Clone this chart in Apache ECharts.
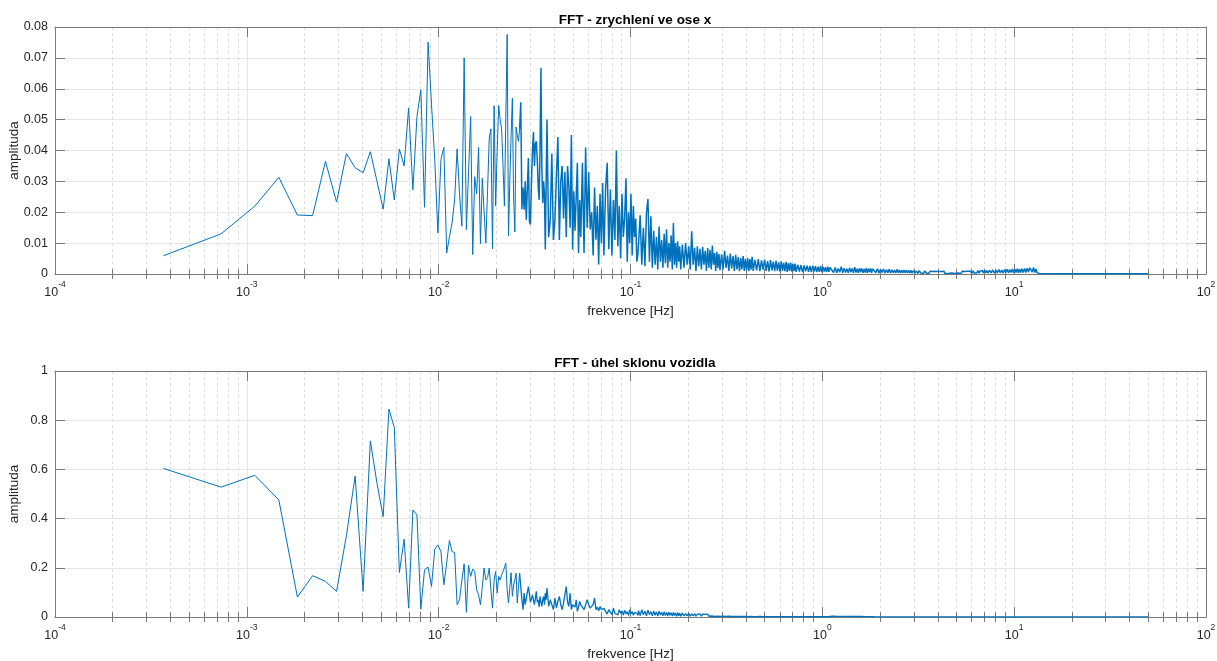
<!DOCTYPE html>
<html>
<head>
<meta charset="utf-8">
<script src="https://cdn.jsdelivr.net/npm/echarts@6/dist/echarts.min.js"></script>
<style>html,body{margin:0;padding:0;background:#fff}#c{width:1217px;height:661px}</style>
</head>
<body>
<div id="c"></div>
<script>
const DF = 0.000367;
const BINS_A = [1,2,3,4,5,6,7,8,9,10,11,12,13,14,15,16,17,18,19,20,21,22,23,24,25,26,27,28,29,30,31,32,33,34,35,36,37,38,39,40,41,42,43,44,45,46,47,48,49,50,51,52,53,54,55,56,57,58,59,60,61,62,63,64,65,66,67,68,69,70,71,72];
const BINS_B = [73,74,75,76,77,78,79,80,81,82,83,84,85,86,87,88,89,90,91,92,93,94,95,96,97,98,99,100,
  102,104,106,108,110,112,114,116,118,120,122,124,126,128,130,132,134,136,138,140,142,144,146,148,150,
  153,156,159,162,165,168,171,174,177,180,183,186,189,192,195,198,
  202,206,210,214,218,222,226,230,234,238,242,246,250,254,258,262,266,270,274,278,282,286,290,294,298];
const BINS_C = [300,306,312,318,324,330,336,342,348,354,360,366,372,378,384,390,396,402,408,414,420,426,432,438,444,450,456,462,468,474,480,486,492,498,
  508,518,528,538,548,558,568,578,588,598,608,618,628,638,648,658,668,678,688,698,708,718,728,738,748,758,768,778,788,798,
  813,828,843,858,873,888,903,918,933,948,963,978,993,1008,1023,1038,1053,1068,1083,1098,1113,1128,1143,1158,1173,1188,
  1213,1238,1263,1288,1313,1338,1363,1388,1413,1438,1463,1488,1513,1538,1563,1588,1613,1638,1663,1688,1713,1738,1763,1788,1813,1838,1863,1888,1913,1938,1963,1988,
  2028,2068,2108,2148,2188,2228,2268,2308,2348,2388,2428,2468,2508,2548,2588,2628,2668,2708,2748,2788,2828,2868,2908,2948,2988];
const BINS_D = [3060,3120,3180,3240,3300,3360,3420,3480,3540,3600,3660,3720,3780,3840,3900,3960,4020,4080,4140,4200,4260,4320,4380,4440,4500,4560,4620,4680,4740,4800,4860,4920,4980,
  5080,5180,5280,5380,5480,5580,5680,5780,5880,5980,6080,6180,6280,6380,6480,6580,6680,6780,6880,6980,7080,7180,7280,7380,7480,7580,7680,7780,7880,7980,
  8130,8280,8430,8580,8730,8880,9030,9180,9330,9480,9630,9780,9930,10080,10230,10380,10530,10680,10830,10980,11130,11280,11430,11580,11730,11880,
  12130,12380,12630,12880,13130,13380,13630,13880,14130,14380,14630,14880,15130,15380,15630,15880,16130,16380,16630,16880,17130,17380,17630,17880,18130,18380,18630,18880,19130,19380,19630,19880,
  20280,20680,21080,21480,21880,22280,22680,23080,23480,23880,24280,24680,25080,25480,25880,26280,26680,27080,27480,27880,28280,28680,29080,29480,29880,
  30380,30880,31380,31880,32380,32880,33380,33880,34380,34880,35380,35880,36380,36880,37380,37880];
const BINS_E = [40000,50000,70000,100000,136000];

// FFT - zrychlení ve ose x (amplitude)
const ACC_A = [.0059,.013,.022,.0313,.0191,.0189,.0365,.0233,.039,.0344,
  .0328,.0396,.030,.021,.0373,.024,.0405,.035,.0538,.0273,
  .051,.0596,.0216,.0751,.055,.037,.0133,.037,.041,.0068,
  .012,.0165,.024,.0405,.026,.0155,.070,.0144,.033,.051,
  .0063,.0315,.026,.041,.0098,.031,.031,.010,.027,.044,
  .047,.0081,.0545,.022,.040,.0546,.050,.047,.035,.022,
  .050,.0776,.0124,.030,.045,.057,.025,.0136,.0476,.045,
  .043,.047];
const ACC_B = [.0556,.021,.028,.0208,.030,.0176,.028,.0376,.017,.016,.030,.040,.046,.035,.042,.043,.037,.028,.024,.040,.0667,.035,.023,.030,.026,.0079,.030,.050,
  .012,.0176,.039,.011,.0176,.032,.0444,.011,.030,.035,.018,.033,.012,.035,.0285,.015,.045,.0079,.0268,.014,.025,.036,.0068,.024,.012,
  .036,.0068,.041,.015,.033,.0144,.020,.006,.028,.0111,.022,.0031,.026,.010,.0295,.006,
  .0274,.036,.008,.0274,.006,.024,.011,.040,.009,.022,.005,.026,.012,.018,.031,.004,.020,.010,.026,.006,.022,.012,.018,.004,.0065];
const ACC_C = [.006,.019,.003,.015,.0025,.020,.0243,.004,.0187,.002,.014,.003,.012,.0015,.0154,.004,.011,.002,.013,.0035,.0145,.002,.010,.004,.0125,.0015,.0165,.003,.010,.002,.0106,.004,.009,.0015,
  .0095,.002,.010,.003,.009,.0015,.0138,.003,.0085,.001,.009,.0025,.0082,.0015,.0088,.003,.0075,.001,.0084,.002,.0078,.0015,.0092,.003,.0068,.001,.0072,.002,.0065,.0012,
  .0064,.0015,.0075,.002,.006,.001,.0066,.0018,.0058,.001,.0062,.0015,.0055,.0009,.0052,.0015,.0058,.001,.0049,.0012,.0052,.0009,.0048,.0014,.0056,.001,
  .0046,.0012,.0048,.0009,.0044,.0014,.0047,.001,.0042,.0008,.0045,.0012,.004,.0009,.0043,.0011,.0038,.0008,.0041,.001,.0036,.0009,.0039,.0007,.0035,.001,.0037,.0008,.0033,.0009,.0034,.0007,
  .003,.0008,.0029,.0006,.0028,.0009,.0027,.0007,.0026,.0006,.0027,.0008,.0025,.0006,.0024,.0007,.0026,.0006,.0023,.0008,.0022,.0006,.0024,.0007,.0021];
const ACC_D = [.0019,.0005,.0021,.0004,.0018,.0006,.0024,.0004,.0019,.0005,.0017,.0004,.0020,.0006,.0018,.0004,.0022,.0005,.0017,.0004,.0019,.0006,.0018,.0004,.0016,.0005,.0019,.0004,.0017,.0006,.0018,.0004,.0016,
  .0016,.0004,.0017,.0003,.0015,.0005,.0016,.0003,.0014,.0004,.0015,.0003,.0014,.0004,.0013,.0003,.0015,.0004,.0013,.0003,.0012,.0004,.0013,.0003,.0012,.0004,.0011,.0003,.0012,.0003,
  .0011,.0003,.001,.0002,.0011,.0003,.0009,.0002,.001,.0003,.0009,.0002,.0009,.0003,.0008,.0002,.0009,.0003,.0008,.0002,.0008,.0003,.0008,.0002,.0009,.0002,
  .0008,.0002,.0008,.0003,.0007,.0002,.0008,.0003,.0008,.0002,.0009,.0003,.0008,.0002,.0009,.0003,.0009,.0002,.001,.0003,.0009,.0003,.0011,.0003,.001,.0004,.0011,.0003,.0012,.0004,.0011,.0003,
  .0012,.0004,.0013,.0003,.0012,.0004,.0014,.0004,.0013,.0003,.0014,.0005,.0015,.0004,.0014,.0005,.0016,.0004,.0015,.0005,.0017,.0004,.0016,.0005,.0017,
  .0005,.0018,.0005,.0019,.0006,.002,.0023,.0006,.0021,.0005,.0016,.0004,.0002,.0002,.0001,.0001];
const ACC_E = [.0001,.0001,.0001,.0001,.0001];

// FFT - úhel sklonu vozidla (amplitude)
const ANG_A = [.604,.528,.576,.476,.081,.168,.145,.104,.33,.573,
  .104,.716,.543,.408,.845,.770,.181,.316,.036,.435,
  .415,.032,.192,.203,.124,.276,.293,.266,.131,.22,
  .311,.266,.262,.05,.07,.15,.216,.019,.21,.165,
  .195,.185,.11,.09,.05,.12,.199,.151,.16,.199,
  .111,.036,.150,.185,.097,.165,.150,.172,.185,.200,
  .219,.111,.057,.120,.180,.084,.13,.150,.178,.057,
  .12,.178];
const ANG_B = [.178,.07,.030,.097,.05,.057,.10,.124,.118,.06,.063,.09,.097,.05,.077,.104,.06,.070,.04,.084,.06,.043,.07,.084,.05,.097,.07,.118,
  .043,.070,.05,.030,.077,.036,.063,.084,.05,.030,.057,.063,.124,.06,.043,.097,.030,.05,.057,.04,.070,.023,.04,.063,.05,
  .043,.030,.05,.070,.050,.036,.030,.05,.077,.030,.04,.025,.043,.03,.023,.035,
  .036,.012,.030,.036,.010,.036,.015,.023,.008,.030,.015,.025,.008,.028,.012,.022,.006,.030,.012,.022,.007,.018,.012,.016,.006];
const ANG_C = [.026,.006,.030,.009,.024,.005,.028,.010,.022,.005,.025,.007,.021,.004,.024,.008,.019,.005,.022,.006,.018,.004,.020,.007,.017,.004,.019,.006,.016,.003,.018,.005,.015,.003,
  .016,.004,.014,.005,.015,.003,.013,.004,.014,.003,.012,.004,.013,.003,.012,.004,.011,.003,.012,.003,.011,.004,.010,.003,.011,.002,.010,.003,.0095,.002,
  .0098,.003,.009,.0025,.0095,.003,.0085,.002,.009,.0028,.0082,.002,.0085,.0025,.008,.002,.0078,.0022,.0075,.002,.0078,.0018,.0072,.002,.007,.0018,
  .0068,.0018,.0066,.002,.0064,.0017,.0065,.0019,.0062,.0016,.006,.0018,.0061,.0016,.0058,.0017,.0059,.0015,.0056,.0016,.0057,.0015,.0054,.0015,.0055,.0014,.0052,.0014,.0053,.0013,.005,.0013,
  .0049,.0013,.0048,.0012,.0047,.0013,.0046,.0012,.0045,.0012,.0044,.0011,.0044,.0012,.0043,.0011,.0042,.0011,.0041,.001,.0041,.0011,.004,.001,.0039];
const ANG_D = [.0032,.0008,.003,.0007,.0029,.0008,.0028,.0007,.0027,.0007,.0026,.0006,.0025,.0007,.0024,.0006,.0023,.0006,.0022,.0005,.0021,.0005,.002,.0005,.0019,.0005,.0018,.0005,.0018,.0004,.0017,.0005,.0016,
  .0014,.0004,.0013,.0005,.0013,.0004,.0012,.0004,.0013,.0003,.0012,.0004,.0011,.0003,.0012,.0004,.0011,.0003,.0011,.0004,.001,.0003,.0011,.0003,.001,.0003,.001,.0004,.0009,.0003,
  .001,.0003,.0009,.0003,.0009,.0002,.0009,.0003,.0008,.0002,.0009,.0003,.0008,.0002,.0008,.0003,.0008,.0002,.0007,.0002,.0008,.0002,.0007,.0002,.0007,.0002,
  .0007,.0002,.0007,.0002,.0006,.0002,.0007,.0002,.0006,.0002,.0006,.0002,.0006,.0002,.0006,.0002,.0005,.0002,.0006,.0002,.0005,.0002,.0005,.0002,.0005,.0002,.0005,.0002,.0005,.0002,.0005,.0002,
  .0005,.0002,.0005,.0002,.0004,.0002,.0005,.0001,.0004,.0002,.0004,.0001,.0004,.0002,.0004,.0001,.0004,.0002,.0004,.0001,.0004,.0002,.0004,.0001,.0004,
  .0003,.0001,.0003,.0001,.0003,.0001,.0003,.0001,.0003,.0001,.0002,.0001,.0002,.0001,.0002,.0001];
const ANG_E = [.0002,.0002,.0002,.0002,.0002];

// axis ticks
const X_MIN = 1e-4, X_MAX = 100;
const X_MINOR = [2e-4,3e-4,4e-4,5e-4,6e-4,7e-4,8e-4,9e-4,
  2e-3,3e-3,4e-3,5e-3,6e-3,7e-3,8e-3,9e-3,
  0.02,0.03,0.04,0.05,0.06,0.07,0.08,0.09,
  0.2,0.3,0.4,0.5,0.6,0.7,0.8,0.9,
  2,3,4,5,6,7,8,9,
  20,30,40,50,60,70,80,90];
const Y1 = {min: 0, max: 0.08, interval: 0.01};
const Y2 = {min: 0, max: 1, interval: 0.2};
const TITLES = ['FFT - zrychlení ve ose x', 'FFT - úhel sklonu vozidla'];
const X_NAME = 'frekvence [Hz]';
const Y_NAME = 'amplituda';

// sparse low-frequency part (one line per bin) and dense high-frequency part
const BINS_LO = BINS_A;
const BINS_HI = [BINS_A[BINS_A.length - 1]].concat(BINS_B, BINS_C, BINS_D, BINS_E);
const ACC_LO = ACC_A, ACC_HI = [ACC_A[ACC_A.length - 1]].concat(ACC_B, ACC_C, ACC_D, ACC_E);
const ANG_LO = ANG_A, ANG_HI = [ANG_A[ANG_A.length - 1]].concat(ANG_B, ANG_C, ANG_D, ANG_E);
if (BINS_HI.length !== ACC_HI.length || BINS_HI.length !== ANG_HI.length) console.error('length mismatch', BINS_HI.length, ACC_HI.length, ANG_HI.length);

const FONT = '"Liberation Sans", Arial, Helvetica, sans-serif';
const AX = '#7a7a7a', TXT = '#262626', GRIDC = '#e6e6e6', MINORC = '#dcdcdc';
const BLUE = '#0072BD';

const grids = [
  {left: 55, top: 27, width: 1151, height: 247, outerBoundsMode: 'none', containLabel: false},
  {left: 55, top: 371, width: 1151, height: 246, outerBoundsMode: 'none', containLabel: false}
];

function xAxesFor(gi) {
  const base = {gridIndex: gi, type: 'log', logBase: 10, min: X_MIN, max: X_MAX, splitNumber: 6};
  return [
    Object.assign({}, base, {
      position: 'bottom',
      axisLine: {show: true, onZero: false, lineStyle: {color: AX, width: 1}},
      axisTick: {show: true, inside: true, length: 10, lineStyle: {color: AX}},
      axisLabel: {
        show: true, margin: 6, color: TXT, fontSize: 12.5, fontFamily: FONT,
        formatter: v => '{b|10}{s|' + Math.round(Math.log10(v)) + '}',
        rich: {
          b: {fontSize: 12.5, fontFamily: FONT, color: TXT, padding: [6, 0, 0, 0], verticalAlign: 'bottom'},
          s: {fontSize: 8.5, fontFamily: FONT, color: TXT, verticalAlign: 'top', lineHeight: 10}
        }
      },
      splitLine: {show: true, lineStyle: {color: GRIDC, width: 1}},
      name: X_NAME, nameLocation: 'middle', nameGap: 30, nameMoveOverlap: false,
      nameTextStyle: {color: TXT, fontSize: 13.5, fontFamily: FONT}
    }),
    Object.assign({}, base, {
      position: 'top',
      axisLine: {show: true, onZero: false, lineStyle: {color: AX, width: 1}},
      axisTick: {show: true, inside: true, length: 10, lineStyle: {color: AX}},
      axisLabel: {show: false}, splitLine: {show: false}
    }),
    Object.assign({}, base, {
      position: 'bottom',
      axisLine: {show: false},
      axisTick: {show: true, inside: true, length: 5, customValues: X_MINOR, lineStyle: {color: AX}},
      axisLabel: {show: false, customValues: X_MINOR},
      splitLine: {show: true, lineStyle: {color: MINORC, width: 1, type: [3, 3]}}
    }),
    Object.assign({}, base, {
      position: 'top',
      axisLine: {show: false},
      axisTick: {show: true, inside: true, length: 5, customValues: X_MINOR, lineStyle: {color: AX}},
      axisLabel: {show: false, customValues: X_MINOR},
      splitLine: {show: false}
    })
  ];
}

function yAxesFor(gi, y) {
  return [
    {
      gridIndex: gi, type: 'value', position: 'left', min: y.min, max: y.max, interval: y.interval,
      axisLine: {show: true, lineStyle: {color: AX, width: 1}},
      axisTick: {show: true, inside: true, length: 10, lineStyle: {color: AX}},
      axisLabel: {show: true, margin: 7, color: TXT, fontSize: 12.5, fontFamily: FONT},
      splitLine: {show: true, lineStyle: {color: GRIDC, width: 1}},
      name: Y_NAME, nameLocation: 'middle', nameGap: 34, nameRotate: 90, nameMoveOverlap: false,
      nameTextStyle: {color: TXT, fontSize: 13.5, fontFamily: FONT}
    },
    {
      gridIndex: gi, type: 'value', position: 'right', min: y.min, max: y.max, interval: y.interval,
      axisLine: {show: true, lineStyle: {color: AX, width: 1}},
      axisTick: {show: true, inside: true, length: 10, lineStyle: {color: AX}},
      axisLabel: {show: false}, splitLine: {show: false}
    }
  ];
}

function lineSeries(xi, yi, bins, vals, width) {
  return {type: 'line', xAxisIndex: xi, yAxisIndex: yi, showSymbol: false, symbol: 'none', z: 5,
    sampling: 'none', lineStyle: {color: BLUE, width: width},
    data: bins.map((b, i) => [b * DF, vals[i]])};
}

const option = {
  animation: false,
  backgroundColor: '#fff',
  title: [
    {text: TITLES[0], left: 630, top: 8, textAlign: 'center',
     textStyle: {fontSize: 13.5, fontWeight: 'bold', color: '#000', fontFamily: FONT}},
    {text: TITLES[1], left: 630, top: 351, textAlign: 'center',
     textStyle: {fontSize: 13.5, fontWeight: 'bold', color: '#000', fontFamily: FONT}}
  ],
  grid: grids,
  xAxis: [].concat(xAxesFor(0), xAxesFor(1)),
  yAxis: [].concat(yAxesFor(0, Y1), yAxesFor(1, Y2)),
  series: [
    lineSeries(0, 0, BINS_LO, ACC_LO, 1),
    lineSeries(0, 0, BINS_HI, ACC_HI, 1.5),
    lineSeries(4, 2, BINS_LO, ANG_LO, 1),
    lineSeries(4, 2, BINS_HI, ANG_HI, 1.3)
  ]
};

const chart = echarts.init(document.getElementById('c'), null, {renderer: 'canvas'});
chart.setOption(option);
</script>
</body>
</html>
